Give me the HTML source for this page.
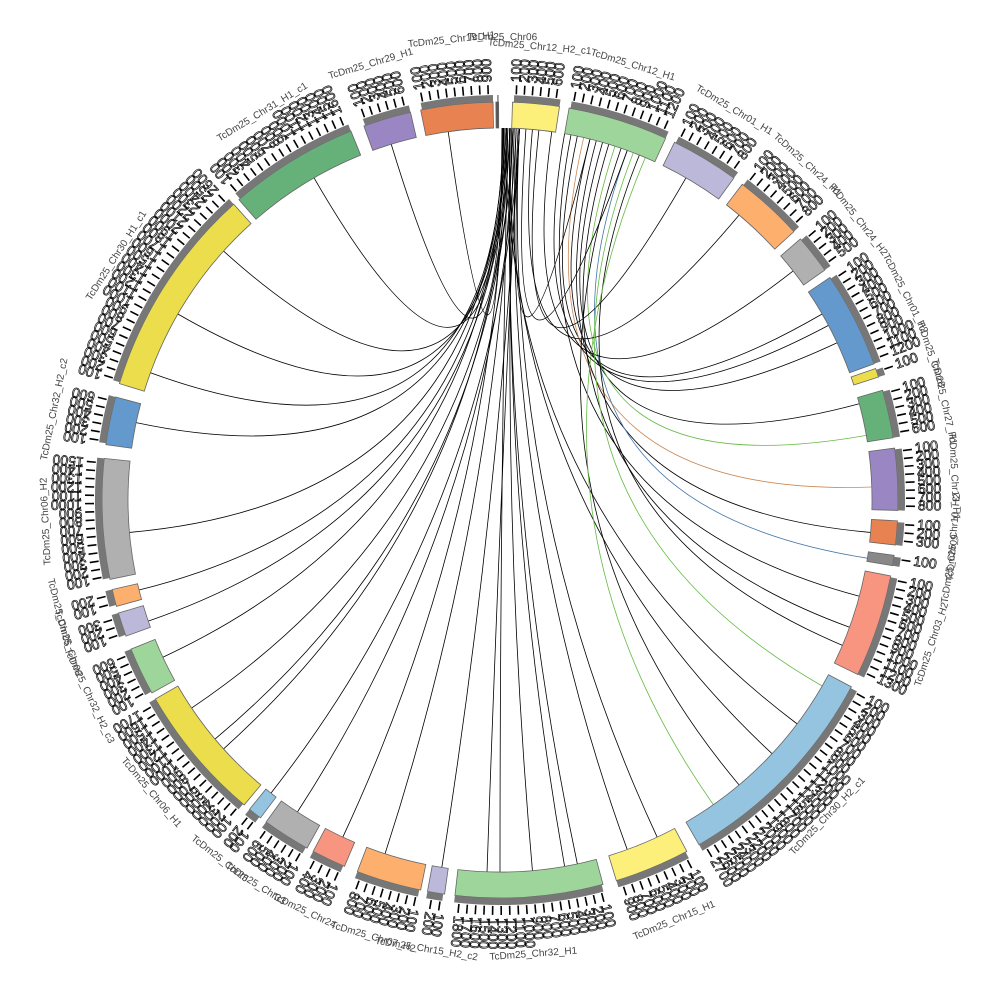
<!DOCTYPE html>
<html><head><meta charset="utf-8"><style>
html,body{margin:0;padding:0;background:#fff;width:1000px;height:1000px;overflow:hidden}
svg{display:block}
.nm{font-family:"Liberation Sans",sans-serif;font-size:10px;fill:#444;text-anchor:middle}
</style></head><body>
<svg id="s" width="1000" height="1000" viewBox="0 0 1000 1000">
<g id="links"></g><g id="segs"></g><g id="ticks"></g>
<g id="names">
<text class="nm" transform="rotate(5 500 500)" x="500" y="48">TcDm25_Chr12_H2_c1</text>
<text class="nm" transform="rotate(17 500 500)" x="500" y="48">TcDm25_Chr12_H1</text>
<text class="nm" transform="rotate(31 500 500)" x="500" y="48">TcDm25_Chr01_H1</text>
<text class="nm" transform="rotate(42.5 500 500)" x="500" y="48">TcDm25_Chr24_H1</text>
<text class="nm" transform="rotate(52 500 500)" x="500" y="48">TcDm25_Chr24_H2</text>
<text class="nm" transform="rotate(63 500 500)" x="500" y="48">TcDm25_Chr01_H2</text>
<text class="nm" transform="rotate(71.3 500 500)" x="500" y="48">TcDm25_Chr28</text>
<text class="nm" transform="rotate(77.5 500 500)" x="500" y="48">TcDm25_Chr27_H1</text>
<text class="nm" transform="rotate(87 500 500)" x="500" y="48">TcDm25_Chr13_H1</text>
<text class="nm" transform="rotate(-85.3 500 500)" x="500" y="958">TcDm25_Chr10_H2</text>
<text class="nm" transform="rotate(-81.3 500 500)" x="500" y="958">TcDm25_Chr09</text>
<text class="nm" transform="rotate(-71.5 500 500)" x="500" y="958">TcDm25_Chr03_H2</text>
<text class="nm" transform="rotate(-46 500 500)" x="500" y="958">TcDm25_Chr30_H2_c1</text>
<text class="nm" transform="rotate(-22.5 500 500)" x="500" y="958">TcDm25_Chr15_H1</text>
<text class="nm" transform="rotate(-4.2 500 500)" x="500" y="958">TcDm25_Chr32_H1</text>
<text class="nm" transform="rotate(9.3 500 500)" x="500" y="958">TcDm25_Chr15_H2_c2</text>
<text class="nm" transform="rotate(16.2 500 500)" x="500" y="958">TcDm25_Chr07_H2</text>
<text class="nm" transform="rotate(25.5 500 500)" x="500" y="958">TcDm25_Chr24</text>
<text class="nm" transform="rotate(32.5 500 500)" x="500" y="958">TcDm25_Chr33</text>
<text class="nm" transform="rotate(38 500 500)" x="500" y="958">TcDm25_Chr25</text>
<text class="nm" transform="rotate(50 500 500)" x="500" y="958">TcDm25_Chr06_H1</text>
<text class="nm" transform="rotate(64.5 500 500)" x="500" y="958">TcDm25_Chr32_H2_c3</text>
<text class="nm" transform="rotate(71.7 500 500)" x="500" y="958">TcDm25_Chr08</text>
<text class="nm" transform="rotate(75.7 500 500)" x="500" y="958">TcDm25_Chr05</text>
<text class="nm" transform="rotate(-92.7 500 500)" x="500" y="48">TcDm25_Chr06_H2</text>
<text class="nm" transform="rotate(-78.5 500 500)" x="500" y="48">TcDm25_Chr32_H2_c2</text>
<text class="nm" transform="rotate(-57.5 500 500)" x="500" y="48">TcDm25_Chr30_H1_c1</text>
<text class="nm" transform="rotate(-31.5 500 500)" x="500" y="48">TcDm25_Chr31_H1_c1</text>
<text class="nm" transform="rotate(-16.5 500 500)" x="500" y="48">TcDm25_Chr29_H1</text>
<text class="nm" transform="rotate(-6 500 500)" x="500" y="40">TcDm25_Chr19_H1</text>
<text class="nm" transform="rotate(0.3 500 500)" x="500" y="40">TcDm25_Chr06</text>
</g>
</svg>
<script>
var NS="http://www.w3.org/2000/svg",C=500;
var segs=[[1.8,8.6,"#fdf07a"],[10,24.6,"#9dd59b"],[26,36,"#bcb8da"],[37.5,47.6,"#fdb06e"],[49,54.7,"#b0b0b0"],[56,70,"#6399cc"],[70.7,72,"#ebdd4c"],[74,81,"#66b07a"],[82.5,91.5,"#9a86c2"],[93,96.5,"#e88351"],[98,99.5,"#888"],[101,116,"#f89580"],[118,150,"#95c4e0"],[152,163,"#fdf07a"],[165,186.5,"#9dd59b"],[188,190.5,"#bcb8da"],[191.5,201,"#fdb06e"],[203,208,"#f89580"],[209,216,"#b0b0b0"],[217,219,"#95c4e0"],[220,240,"#ebdd4c"],[241,248,"#9dd59b"],[250,253.5,"#bcb8da"],[254.5,257,"#fdb06e"],[258.5,276,"#b0b0b0"],[278,285,"#6399cc"],[287,318,"#ebdd4c"],[319,338,"#66b07a"],[340,347,"#9a86c2"],[348.5,359,"#e88351"],[359.4,359.8,"#555"]];
function P(r,a){a=a*Math.PI/180;return [C+r*Math.sin(a),C-r*Math.cos(a)];}
function arc(r1,r2,a,b){var p1=P(r2,a),p2=P(r2,b),p3=P(r1,b),p4=P(r1,a),l=(b-a)>180?1:0;
return "M"+p1+"A"+r2+","+r2+" 0 "+l+" 1 "+p2+"L"+p3+"A"+r1+","+r1+" 0 "+l+" 0 "+p4+"Z";}
function el(t,at,par){var e=document.createElementNS(NS,t);for(var k in at)e.setAttribute(k,at[k]);document.getElementById(par).appendChild(e);return e;}
segs.forEach(function(s){
 el("path",{d:arc(372,398,s[0],s[1]),fill:s[2],stroke:"#666","stroke-width":0.8},"segs");
 el("path",{d:arc(398,405,s[0]+0.2,s[1]),fill:"#777"},"segs");
 var span=s[1]-s[0],n=Math.max(1,Math.round(span/1.2)),st=span/n;
 for(var i=0;i<n;i++){var a=s[0]+0.5+i*st;if(a>s[1])break;
  var p=P(406,a),q=P(415,a);
  el("line",{x1:p[0],y1:p[1],x2:q[0],y2:q[1],stroke:"#000","stroke-width":1.6},"ticks");
  var t=el("text",{transform:"rotate("+a+" 500 500) translate(500,82) rotate(-90)","font-family":"Liberation Sans, sans-serif","font-size":14,fill:"none",stroke:"#000","stroke-width":0.7,"dominant-baseline":"middle"},"ticks");
  t.textContent=String((i+1)*100);}
});
var L=[[0.5,265],[0.8,282],[1,300],[1.2,312],[0.6,330],[0.4,343],[0.3,352],[1,256],[1.5,251],[0.8,245],[2,236],[1.5,228],[3,218],[2.5,213],[1,205],[2,198],[3,189],[1.2,180],[2.2,175],[1.8,170],[2.5,160],[3,155],[1.5,133],[1,127],[12,60],[14,65],[16,75],[18,80],[13,88],[15,95],[20,99],[11,105],[17,110],[22,113],[19,140],[23,145],[2,230],[5,40],[6,30],[4,20],[3,14],[8,52],[10,62],[21,120],[0.5,290],[2.8,182],[1.6,168]];
var cols=["#000","#000","#000","#6b4","#c85","#000","#47a","#000"];
L.forEach(function(l,i){var a=P(372,l[0]),b=P(372,l[1]);
 el("path",{d:"M"+a+"Q500,500 "+b,fill:"none",stroke:(l[0]>9?cols[i%8]:"#000"),"stroke-width":0.8},"links");});
</script>
</body></html>
